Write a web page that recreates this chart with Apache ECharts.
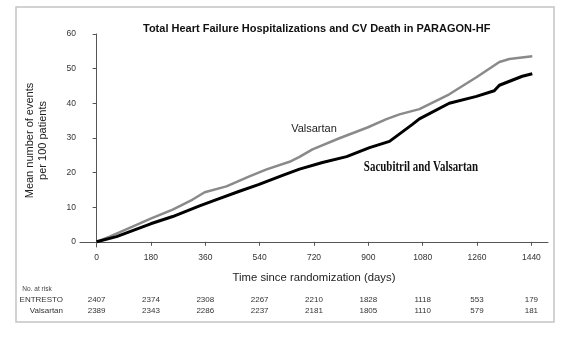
<!DOCTYPE html>
<html>
<head>
<meta charset="utf-8">
<script src="https://cdn.jsdelivr.net/npm/echarts@6/dist/echarts.min.js"></script>
<style>
  html, body { margin: 0; padding: 0; background: #fff; }
  #chart { width: 578px; height: 342px; }
</style>
</head>
<body>
<div id="chart"></div>
<script>
// Day marks shown on the time axis
const dayTicks = [0, 180, 360, 540, 720, 900, 1080, 1260, 1440];
const yTicks = [0, 10, 20, 30, 40, 50, 60];

// Cumulative mean events per 100 patients: [day, value]
const valsartanCurve = [
  [0, 0], [43, 1.5], [119, 4.4], [179, 6.7], [252, 9.3], [318, 12.2],
  [358, 14.3], [430, 16.0], [506, 18.9], [563, 20.9], [639, 23.1],
  [672, 24.5], [715, 26.7], [804, 29.9], [897, 33.0], [960, 35.4],
  [1003, 36.8], [1069, 38.3], [1168, 42.6], [1258, 47.5], [1334, 51.9],
  [1367, 52.8], [1443, 53.6]
];
const sacubitrilCurve = [
  [0, 0], [66, 1.5], [179, 5.2], [252, 7.3], [341, 10.4], [397, 12.2],
  [473, 14.6], [536, 16.5], [616, 19.2], [672, 21.0], [748, 22.9],
  [828, 24.6], [904, 27.2], [970, 29.0], [1046, 33.9], [1069, 35.5],
  [1168, 40.0], [1258, 42.0], [1317, 43.6], [1334, 45.2], [1410, 47.8],
  [1443, 48.5]
];

// Number at risk under each day mark
const riskEntresto = [2407, 2374, 2308, 2267, 2210, 1828, 1118, 553, 179];
const riskValsartan = [2389, 2343, 2286, 2237, 2181, 1805, 1110, 579, 181];

const axisColor = '#555';
const labelColor = '#333';
const sans = 'Liberation Sans, Arial, sans-serif';

function riskAxis(name, values, offset) {
  return {
    type: 'value', gridIndex: 0, position: 'bottom', offset: offset,
    min: -55, max: 1495,
    axisLine: { show: false }, axisTick: { show: false }, splitLine: { show: false },
    axisLabel: {
      customValues: dayTicks, margin: 0, verticalAlign: 'middle',
      fontFamily: sans, fontSize: 8, color: labelColor,
      formatter: v => String(values[dayTicks.indexOf(v)])
    },
    name: name, nameLocation: 'start', nameGap: 17,
    nameTextStyle: { fontFamily: sans, fontSize: 8, color: labelColor, verticalAlign: 'middle', align: 'right' }
  };
}

const chart = echarts.init(document.getElementById('chart'), null, { renderer: 'canvas' });
chart.setOption({
  backgroundColor: '#fff',
  animation: false,
  title: {
    text: 'Total Heart Failure Hospitalizations and CV Death in PARAGON-HF',
    left: 138, top: 18,
    textStyle: { fontFamily: sans, fontSize: 11, fontWeight: 'bold', color: '#111' }
  },
  grid: { left: 80, right: 30, top: 34, bottom: 95, containLabel: false },
  xAxis: [
    {
      type: 'value', min: -55, max: 1495,
      axisLine: { show: true, lineStyle: { color: axisColor, width: 1 } },
      axisTick: { show: true, customValues: dayTicks, length: 4, lineStyle: { color: axisColor } },
      axisLabel: { customValues: dayTicks, margin: 6, fontFamily: sans, fontSize: 8.5, color: labelColor, formatter: v => String(v) },
      splitLine: { show: false },
      name: 'Time since randomization (days)', nameLocation: 'middle', nameGap: 25,
      nameTextStyle: { fontFamily: sans, fontSize: 11.3, color: '#222' }
    },
    riskAxis('ENTRESTO', riskEntresto, 53),
    riskAxis('Valsartan', riskValsartan, 64)
  ],
  yAxis: {
    type: 'value', min: -1.5, max: 60,
    axisLine: { show: true, lineStyle: { color: axisColor, width: 1 } },
    axisTick: { show: true, customValues: yTicks, length: 4, lineStyle: { color: axisColor } },
    axisLabel: { customValues: yTicks, margin: 4, fontFamily: sans, fontSize: 8.5, color: labelColor },
    splitLine: { show: false },
    name: 'Mean number of events\nper 100 patients', nameLocation: 'middle', nameGap: 31, nameRotate: 90,
    nameTextStyle: { fontFamily: sans, fontSize: 11, lineHeight: 13, color: '#222' }
  },
  series: [
    {
      name: 'Valsartan', type: 'line', data: valsartanCurve, showSymbol: false,
      lineStyle: { color: '#8a8a8a', width: 2.5 }, z: 2
    },
    {
      name: 'Sacubitril and Valsartan', type: 'line', data: sacubitrilCurve, showSymbol: false,
      lineStyle: { color: '#000', width: 3 }, z: 3
    }
  ],
  graphic: [
    {
      type: 'rect', shape: { x: 16, y: 7, width: 538, height: 315 }, silent: true,
      style: { fill: 'none', stroke: '#c4c4c4', lineWidth: 1.5 }
    },
    {
      type: 'text', x: 314, y: 129,
      style: { text: 'Valsartan', fontFamily: sans, fontSize: 11, fill: '#222', textAlign: 'center', textVerticalAlign: 'middle' }
    },
    {
      type: 'text', x: 421, y: 167, scaleX: 0.78,
      style: { text: 'Sacubitril and Valsartan', fontFamily: '"Liberation Serif", "Times New Roman", serif', fontSize: 14, fontWeight: 'bold', fill: '#111', textAlign: 'center', textVerticalAlign: 'middle' }
    },
    {
      type: 'text', x: 37, y: 289,
      style: { text: 'No. at risk', fontFamily: sans, fontSize: 6.5, fill: '#444', textAlign: 'center', textVerticalAlign: 'middle' }
    }
  ]
});
</script>
</body>
</html>
